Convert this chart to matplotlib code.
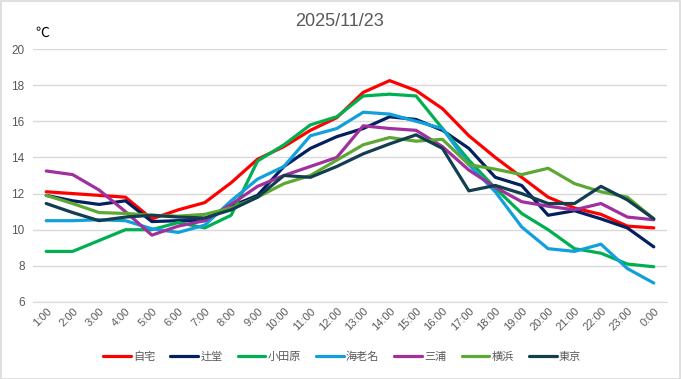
import matplotlib
matplotlib.use("Agg")
import matplotlib.pyplot as plt
from matplotlib.patches import Rectangle

plt.rcParams['font.family'] = ['Liberation Sans', 'Noto Sans CJK JP', 'DejaVu Sans']

title = "2025/11/23"
hours = [f"{h}:00" for h in range(1, 24)] + ["0:00"]

names = ["自宅", "辻堂", "小田原", "海老名", "三浦", "横浜", "東京"]
colors = ["#FF0000", "#002060", "#00B050", "#12A0DC", "#A0309E", "#5CA832", "#123E50"]

jitaku   = [12.1, 12.0, 11.9, 11.8, 10.6, 11.1, 11.5, 12.6, 13.9, 14.6, 15.5, 16.2, 17.6, 18.25, 17.7, 16.7, 15.2, 14.0, 12.9, 11.8, 11.2, 10.85, 10.2, 10.1]
tsujido  = [11.9, 11.6, 11.4, 11.6, 10.45, 10.5, 10.5, 11.3, 11.9, 13.5, 14.5, 15.15, 15.6, 16.25, 16.1, 15.5, 14.5, 12.9, 12.45, 10.8, 11.05, 10.6, 10.1, 9.05]
odawara  = [8.8, 8.8, 9.4, 10.0, 10.0, 10.4, 10.1, 10.8, 13.8, 14.7, 15.8, 16.25, 17.4, 17.5, 17.4, 15.6, 13.85, 12.3, 10.9, 10.0, 8.95, 8.7, 8.1, 7.95]
ebina    = [10.5, 10.5, 10.55, 10.5, 10.05, 9.85, 10.25, 11.6, 12.8, 13.5, 15.2, 15.6, 16.5, 16.4, 16.0, 15.6, 13.6, 12.1, 10.15, 8.95, 8.8, 9.2, 7.85, 7.05]
miura    = [13.25, 13.05, 12.2, 11.0, 9.7, 10.2, 10.5, 11.4, 12.4, 13.0, 13.5, 14.0, 15.75, 15.6, 15.5, 14.6, 13.3, 12.35, 11.55, 11.3, 11.1, 11.45, 10.7, 10.55]
yokohama = [11.9, 11.45, 10.95, 10.9, 10.8, 10.75, 10.85, 11.2, 11.8, 12.55, 13.0, 13.85, 14.7, 15.1, 14.9, 15.0, 13.6, 13.35, 13.05, 13.4, 12.55, 12.1, 11.8, 10.6]
tokyo    = [11.45, 10.95, 10.5, 10.7, 10.8, 10.7, 10.65, 11.1, 11.8, 13.0, 12.9, 13.5, 14.2, 14.75, 15.25, 14.5, 12.15, 12.45, 12.0, 11.45, 11.45, 12.4, 11.65, 10.6]
series = [jitaku, tsujido, odawara, ebina, miura, yokohama, tokyo]

yticks = [6, 8, 10, 12, 14, 16, 18, 20]

W, H = 681, 379
fig = plt.figure(figsize=(W / 100, H / 100), dpi=100)
fig.patch.set_facecolor("white")
fig.patches.append(Rectangle((0.5 / W, 0.5 / H), 1 - 1.5 / W, 1 - 1.5 / H, transform=fig.transFigure,
                             fill=False, edgecolor="#D9D9D9", linewidth=1.2))

left, right, top, bottom = 33, 667, 49, 302
ax = fig.add_axes([left / W, 1 - bottom / H, (right - left) / W, (bottom - top) / H])

x = list(range(len(hours)))
for name, c, vals in zip(names, colors, series):
    ax.plot(x, vals, color=c, linewidth=2.3, label=name, solid_joinstyle="round", solid_capstyle="round")

ax.set_xlim(-0.5, len(hours) - 0.5)
ax.set_ylim(6, 20)
ax.set_yticks(yticks)
ax.yaxis.grid(True, color="#D9D9D9", linewidth=1)
ax.set_axisbelow(True)
for s in ["top", "right", "left"]:
    ax.spines[s].set_visible(False)
ax.spines["bottom"].set_color("#D9D9D9")
ax.tick_params(axis="y", length=0, labelsize=8.5, labelcolor="#595959", pad=6)
ax.tick_params(axis="x", length=0, labelsize=8, labelcolor="#595959", pad=3)
ax.set_xticks(x)
ax.set_xticklabels(hours, rotation=45, ha="right", rotation_mode="anchor")

fig.text(340 / W, 1 - 22 / H, title, ha="center", va="center", fontsize=13, color="#595959")
fig.text(35 / W, 1 - 33 / H, "℃", ha="left", va="center", fontsize=10, color="black",
         family=["Noto Sans CJK JP", "DejaVu Sans"])

leg = fig.legend(loc="center", bbox_to_anchor=(342 / W, 1 - 357 / H), ncol=7, frameon=False,
                 handlelength=2.5, handletextpad=0.2, columnspacing=1.35,
                 prop={"family": ["Noto Sans CJK JP", "DejaVu Sans"], "size": 8})
for t in leg.get_texts():
    t.set_color("#595959")
for l in leg.get_lines():
    l.set_linewidth(2.3)

fig.savefig("out.png", dpi=100, facecolor="white")
